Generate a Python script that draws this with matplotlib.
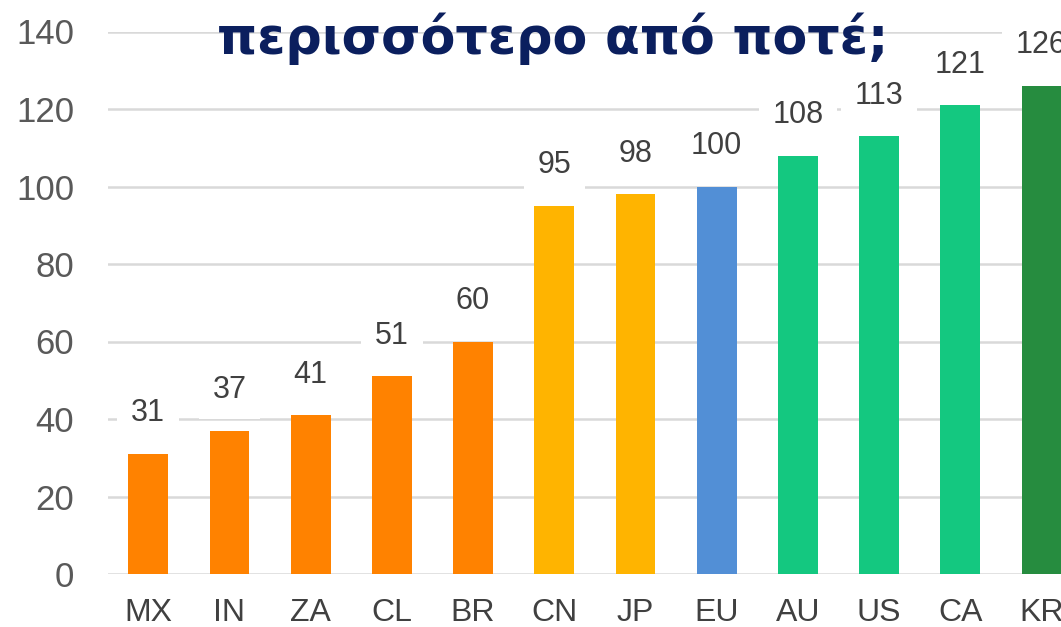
import matplotlib
matplotlib.use("Agg")
import matplotlib.pyplot as plt

categories = ["MX", "IN", "ZA", "CL", "BR", "CN", "JP", "EU", "AU", "US", "CA", "KR"]
values = [31, 37, 41, 51, 60, 95, 98, 100, 108, 113, 121, 126]
bar_colors = ["#FF8200", "#FF8200", "#FF8200", "#FF8200", "#FF8200",
              "#FFB400", "#FFB400", "#528FD6",
              "#14C880", "#14C880", "#14C880", "#268C3F"]
y_ticks = [0, 20, 40, 60, 80, 100, 120, 140]
title = "περισσότερο από ποτέ;"

plt.rcParams["font.family"] = ["Liberation Sans", "DejaVu Sans"]

fig = plt.figure(figsize=(10.61, 6.27), dpi=100)
ax = fig.add_axes([107.6 / 1061, 53 / 627, 1 - 107.6 / 1061, (574 - 31.5) / 627])

x = list(range(len(categories)))
ax.bar(x, values, width=0.49, color=bar_colors, zorder=2)

ax.set_xlim(-0.5, 11.24)
ax.set_ylim(0, 140)
ax.set_yticks(y_ticks)
ax.set_xticks(x)
ax.set_xticklabels(categories)
ax.set_axisbelow(True)
ax.yaxis.grid(True, color="#D9D9D9", linewidth=1.8)
for s in ax.spines.values():
    s.set_visible(False)
ax.tick_params(axis="y", length=0, pad=24, labelsize=25, labelcolor="#595959")
ax.tick_params(axis="x", length=0, pad=17, labelsize=23, labelcolor="#404040")

for xi, v in zip(x, values):
    ax.annotate(str(v), xy=(xi, v), xytext=(0, 23.4), textcoords="offset points",
                ha="center", va="baseline", fontsize=22, color="#404040",
                bbox=dict(boxstyle="square,pad=0.45", fc="white", ec="none"),
                annotation_clip=False, zorder=3)

fig.text(553 / 1061, (627 - 54) / 627, title, ha="center", va="baseline",
         fontsize=36.5, fontweight="bold", color="#0B1F5E",
         family=["DejaVu Sans"])

fig.savefig("out.png", dpi=100)
